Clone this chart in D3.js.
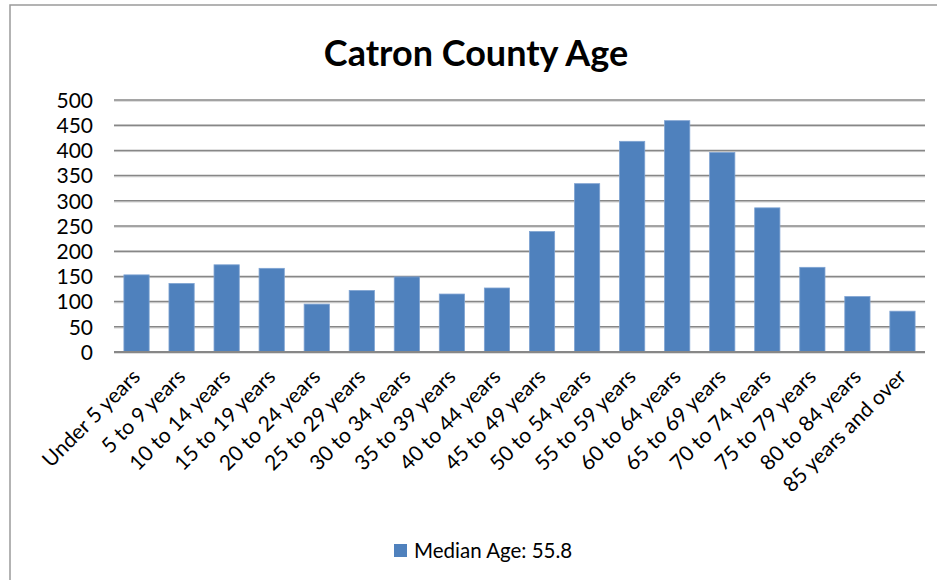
<!DOCTYPE html>
<html><head><meta charset="utf-8">
<script src="https://cdn.jsdelivr.net/npm/d3@7"></script>
<style>body{margin:0;background:#fff}svg{display:block}</style>
</head><body>
<svg id="c" width="937" height="580"></svg>
<script>
const categories = ["Under 5 years","5 to 9 years","10 to 14 years","15 to 19 years","20 to 24 years","25 to 29 years","30 to 34 years","35 to 39 years","40 to 44 years","45 to 49 years","50 to 54 years","55 to 59 years","60 to 64 years","65 to 69 years","70 to 74 years","75 to 79 years","80 to 84 years","85 years and over"];
const values = [153,136,173,166,95,122,149,115,127,239,334,418,459,396,286,168,110,81];
const yTicks = [0,50,100,150,200,250,300,350,400,450,500];
const title = "Catron County Age";
const seriesName = "Median Age: 55.8";

const svg = d3.select("#c");
const font = "Lato, Carlito, Calibri, sans-serif";
const m = {left:114, right:925, top:100, bottom:352};

svg.append("rect").attr("x",10).attr("y",5).attr("width",1000).attr("height",700)
  .attr("fill","#fff").attr("stroke","#9a9a9a").attr("stroke-width",1.5);

const x = d3.scaleBand().domain(categories).range([m.left,m.right]).paddingInner(0.44).paddingOuter(0.22);
const y = d3.scaleLinear().domain([0,500]).range([m.bottom,m.top]);

// gridlines
const grid = svg.append("g");
grid.selectAll("line.s").data(yTicks).join("line")
  .attr("x1",m.left).attr("x2",m.right).attr("y1",d=>y(d)+1.2).attr("y2",d=>y(d)+1.2)
  .attr("stroke","#d0d0d0").attr("stroke-width",1);
grid.selectAll("line.g").data(yTicks).join("line")
  .attr("x1",m.left).attr("x2",m.right).attr("y1",d=>y(d)).attr("y2",d=>y(d))
  .attr("stroke","#878787").attr("stroke-width",1.5);

// y axis labels
const yAxis = d3.axisLeft(y).tickValues(yTicks).tickSize(0).tickPadding(0);
const ya = svg.append("g").attr("transform",`translate(93,0)`).call(yAxis);
ya.select(".domain").remove();
ya.selectAll("text").attr("font-family",font).attr("font-size",21).attr("fill","#000").attr("dy","0.35em");

// bars
svg.append("g").selectAll("rect").data(values).join("rect")
  .attr("x",(d,i)=>x(categories[i])).attr("width",x.bandwidth())
  .attr("y",d=>y(d)).attr("height",d=>y(0)-y(d))
  .attr("fill","#4F81BD").attr("stroke","#7fa3d2").attr("stroke-width",0.8);

// baseline
svg.append("line").attr("x1",m.left).attr("x2",m.right).attr("y1",y(0)).attr("y2",y(0))
  .attr("stroke","#878787").attr("stroke-width",1.8);

// x axis labels
const xAxis = d3.axisBottom(x).tickSize(0).tickPadding(0);
const xa = svg.append("g").attr("transform",`translate(0,${m.bottom})`).call(xAxis);
xa.select(".domain").remove();
xa.selectAll("text").attr("font-family",font).attr("font-size",21).attr("fill","#000")
  .attr("text-anchor","end").attr("dy",null).attr("y",0)
  .attr("transform","translate(5,26) rotate(-45)");

// title
svg.append("text").attr("x",476).attr("y",66).attr("text-anchor","middle")
  .attr("font-family",font).attr("font-weight","bold").attr("font-size",36).attr("fill","#000").text(title);

// legend
svg.append("rect").attr("x",394).attr("y",544).attr("width",13).attr("height",13).attr("fill","#4F81BD");
svg.append("text").attr("x",414).attr("y",558).attr("font-family",font).attr("font-size",20.5).attr("fill","#000").text(seriesName);
</script>
</body></html>
